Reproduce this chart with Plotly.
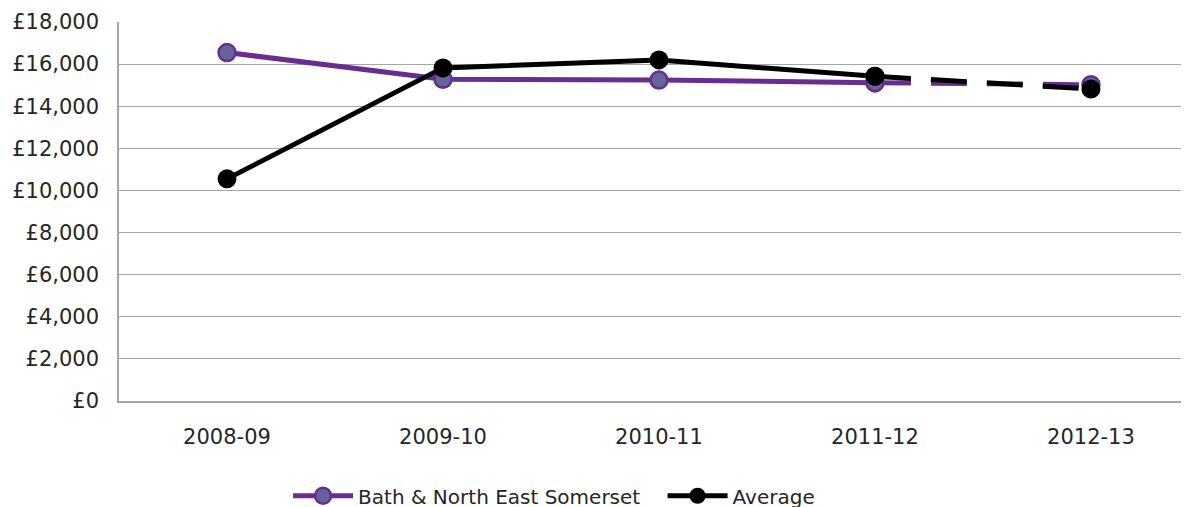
import plotly.graph_objects as go

years = ["2008-09", "2009-10", "2010-11", "2011-12", "2012-13"]
bath = [16550, 15280, 15240, 15120, 15020]
average = [10550, 15820, 16200, 15420, 14820]
y_ticks = [0, 2000, 4000, 6000, 8000, 10000, 12000, 14000, 16000, 18000]
y_tick_labels = ["£0", "£2,000", "£4,000", "£6,000", "£8,000", "£10,000",
                 "£12,000", "£14,000", "£16,000", "£18,000"]

PURPLE = "#6a2c91"
PFILL = "#62649a"
BLACK = "#000000"
FONT = "DejaVu Sans"

fig = go.Figure()

def add_series(name, vals, color, mfill, msize, mline, legend_id):
    n_solid = len(vals) - 1
    fig.add_trace(go.Scatter(
        x=years[:n_solid], y=vals[:n_solid], mode="lines+markers", name=name,
        line=dict(color=color, width=5),
        marker=dict(size=msize, color=mfill, line=dict(color=color, width=mline)),
        legendgroup=name, showlegend=True, legend=legend_id))
    fig.add_trace(go.Scatter(
        x=years[n_solid - 1:], y=vals[n_solid - 1:], mode="lines+markers", name=name,
        line=dict(color=color, width=5, dash="36px,20px"),
        marker=dict(size=msize, color=mfill, line=dict(color=color, width=mline)),
        legendgroup=name, showlegend=False, legend=legend_id))

add_series("Bath & North East Somerset", bath, PURPLE, PFILL, 17, 2.5, "legend")
add_series("Average", average, BLACK, BLACK, 19, 0, "legend2")

legend_common = dict(orientation="h", xanchor="left", y=-0.25, yanchor="middle",
                     font=dict(family=FONT, size=20, color="#262626"),
                     itemwidth=60, tracegroupgap=0, borderwidth=0,
                     bgcolor="rgba(0,0,0,0)")

# the page body adds an 8px offset; margins compensate for it
fig.update_layout(
    width=1189, height=507,
    margin=dict(l=111, r=8, t=14, b=114, autoexpand=False),
    paper_bgcolor="white", plot_bgcolor="white",
    font=dict(family=FONT, size=21, color="#262626"),
    showlegend=True,
    legend=dict(x=0.158, **legend_common),
    legend2=dict(x=0.508, **legend_common),
    xaxis=dict(type="category", range=[-0.5, 4.454], showgrid=False, automargin=False,
               showline=True, linecolor="#a6a6a6", linewidth=1.5,
               ticks="", ticklabelstandoff=16, tickfont=dict(size=21)),
    yaxis=dict(range=[0, 18000], tickvals=y_ticks, ticktext=y_tick_labels, automargin=False,
               showgrid=True, gridcolor="#a6a6a6", gridwidth=1,
               showline=True, linecolor="#a6a6a6", linewidth=1.5,
               ticks="", ticklabelstandoff=14, zeroline=False,
               tickfont=dict(size=21)),
)

fig.write_html("out.html")
